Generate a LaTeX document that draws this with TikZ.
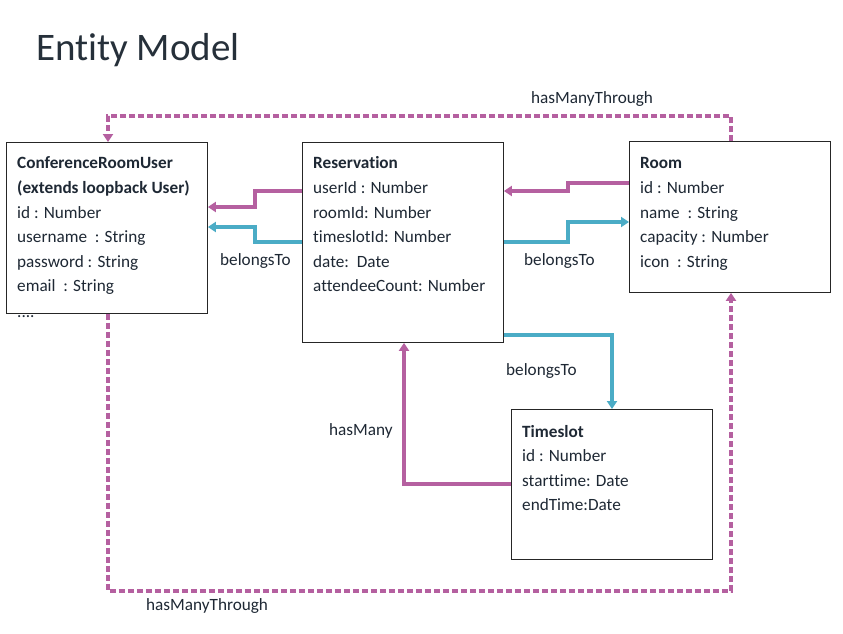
\documentclass[tikz,border=0pt]{standalone}
\usepackage{fontspec}
\setmainfont[Ligatures={NoCommon}]{Carlito}
\usetikzlibrary{arrows.meta}
\definecolor{mag}{RGB}{181,96,160}
\definecolor{cyn}{RGB}{75,172,198}
\definecolor{ink}{RGB}{30,40,52}
\definecolor{titlec}{RGB}{38,48,58}
\begin{document}
\begin{tikzpicture}[x=1pt,y=-1pt,
  box/.style={draw=black!85, line width=0.9pt, anchor=north west, inner sep=0, minimum width=201pt},
  txt/.style={anchor=base west, inner sep=0, font=\fontsize{17.2}{20}\selectfont, text=ink},
  hd/.style={txt, font=\fontsize{17.2}{20}\selectfont\bfseries},
  mg/.style={draw=mag, line width=3.2pt, -{Triangle[length=8pt,width=10pt]}},
  cy/.style={draw=cyn, line width=3.2pt, -{Triangle[length=8pt,width=10pt]}},
  dsh/.style={mg, dash pattern=on 6pt off 3pt}]
\useasboundingbox[fill=white] (0,0) rectangle (843,633);

\node[anchor=base west, inner sep=0, font=\fontsize{39}{44}\selectfont, text=titlec] (title) at (36,60) {Entity Model};

% boxes
\node[box, minimum height=171pt] (cru) at (6,142) {};
\node[box, minimum height=200pt] (res) at (302,142) {};
\node[box, minimum height=151pt] (room) at (629,141) {};
\node[box, minimum height=150pt] (ts) at (511,409) {};

% ConferenceRoomUser text
\node[hd] (c1) at (17,168) {ConferenceRoomUser};
\node[hd] (c2) at (17,193) {(extends loopback User)};
\node[txt] (c3) at (17,218) {id : Number};
\node[txt] (c4) at (17,242) {username\ \ : String};
\node[txt] (c5) at (17,267) {password : String};
\node[txt] (c6) at (17,291) {email\ \ : String};
\node[txt] (c7) at (17,317) {....};

% Reservation text
\node[hd] (r1) at (313,168) {Reservation};
\node[txt] (r2) at (313,193) {userId : Number};
\node[txt] (r3) at (313,218) {roomId: Number};
\node[txt] (r4) at (313,242) {timeslotId: Number};
\node[txt] (r5) at (313,267) {date:\ \ Date};
\node[txt] (r6) at (313,291) {attendeeCount: Number};

% Room text
\node[hd] (m1) at (640,168) {Room};
\node[txt] (m2) at (640,193) {id : Number};
\node[txt] (m3) at (640,218) {name\ \ : String};
\node[txt] (m4) at (640,242) {capacity : Number};
\node[txt] (m5) at (640,267) {icon\ \ : String};

% Timeslot text
\node[hd] (t1) at (522,437) {Timeslot};
\node[txt] (t2) at (522,461) {id : Number};
\node[txt] (t3) at (522,486) {starttime: Date};
\node[txt] (t4) at (522,510) {endTime:Date};

% connectors
\draw[mg] (res.west|-0,191) -- (255,191) -- (255,207) -- (cru.east|-0,207);
\draw[cy] (res.west|-0,242) -- (255,242) -- (255,227) -- (cru.east|-0,227);
\draw[mg] (room.west|-0,183) -- (568,183) -- (568,191) -- (res.east|-0,191);
\draw[cy] (res.east|-0,242) -- (568,242) -- (568,222) -- (room.west|-0,222);
\draw[cy] (res.east|-0,335) -- (612,335) -- (ts.north-|612,0);
\draw[mg] (ts.west|-0,484) -- (404,484) -- (res.south-|404,0);
\draw[dsh] (room.north-|731,0) -- (731,116) -- (108,116) -- (cru.north-|108,0);
\draw[dsh] (cru.south-|108,0) -- (108,591) -- (731,591) -- (room.south-|731,0);

% labels
\node[txt] (l1) at (220,265) {belongsTo};
\node[txt] (l2) at (524,265) {belongsTo};
\node[txt] (l3) at (506,375) {belongsTo};
\node[txt] (l4) at (329,435) {hasMany};
\node[txt] (l5) at (531,103) {hasManyThrough};
\node[txt] (l6) at (146,610) {hasManyThrough};
\end{tikzpicture}
\end{document}
